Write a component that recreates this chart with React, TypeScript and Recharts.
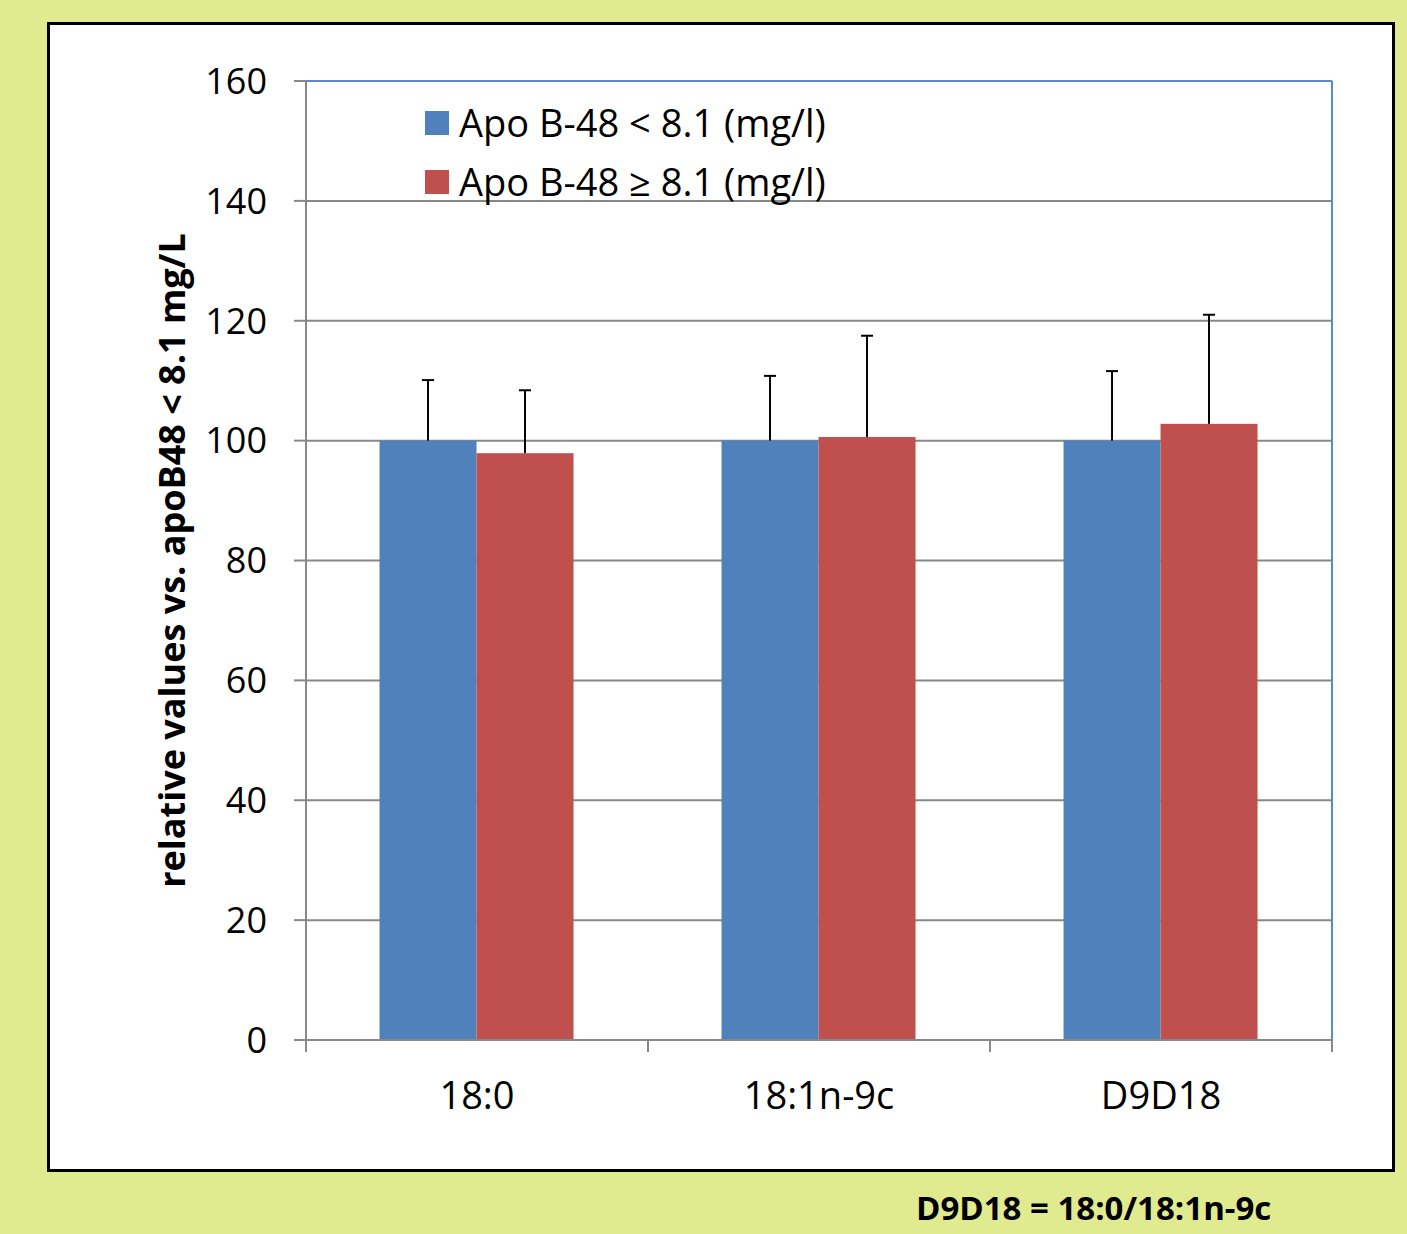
import React from 'react';
import { BarChart, Bar, XAxis, YAxis, CartesianGrid, Legend, ReferenceLine, ReferenceArea } from 'recharts';

const categories = ['18:0', '18:1n-9c', 'D9D18'];
const lowValues = [100, 100, 100];
const highValues = [97.9, 100.6, 102.8];
const lowErrors = [10.1, 10.8, 11.6];
const highErrors = [10.5, 16.9, 18.2];
const yTicks = [0, 20, 40, 60, 80, 100, 120, 140, 160];
const seriesNames = ['Apo B-48 < 8.1 (mg/l)', 'Apo B-48 \u2265 8.1 (mg/l)'];
const yLabel = 'relative values vs. apoB48 < 8.1 mg/L';
const footnote = 'D9D18 = 18:0/18:1n-9c';

const data = categories.map((c, i) => ({
  cat: c,
  low: lowValues[i],
  high: highValues[i],
  lowErr: lowErrors[i],
  highErr: highErrors[i],
}));

const FONT = "'Open Sans', sans-serif";
const BORDER_BLUE = '#5B8AC6';

const makeShape = (valKey: string, errKey: string) => (props: any) => {
  const { x, y, width, height, fill, payload } = props;
  const v = payload[valKey];
  const e = payload[errKey];
  const ppu = v ? height / v : 0;
  const cx = x + width / 2;
  const top = y - e * ppu;
  return (
    <g>
      <rect x={x} y={y} width={width} height={height} fill={fill} />
      <line x1={cx} x2={cx} y1={y} y2={top} stroke="#000" strokeWidth={2} />
      <line x1={cx - 6} x2={cx + 6} y1={top} y2={top} stroke="#000" strokeWidth={2} />
    </g>
  );
};

const RightBorder = (props: any) => {
  const { x, y, width, height } = props;
  const rx = x + width;
  return <line x1={rx} x2={rx} y1={y} y2={y + height} stroke={BORDER_BLUE} strokeWidth={2} />;
};

const XTick = (props: any) => {
  const { x, y, payload, index, visibleTicksCount } = props;
  const half = payload && payload.offset ? payload.offset : 0;
  const isLast = index === (visibleTicksCount || categories.length) - 1;
  return (
    <g>
      <line x1={x - half} x2={x - half} y1={y} y2={y + 12} stroke="#888" strokeWidth={2} />
      {isLast ? <line x1={x + half} x2={x + half} y1={y} y2={y + 12} stroke="#888" strokeWidth={2} /> : null}
      <text x={x} y={y + 56} dy="0.355em" textAnchor="middle" fontSize={38} fill="#000" fontFamily={FONT}>
        {payload.value}
      </text>
    </g>
  );
};

const LegendContent = (props: any) => {
  const { payload } = props;
  return (
    <div style={{ fontFamily: FONT, fontSize: 38, lineHeight: '59px', color: '#000' }}>
      {(payload || []).map((p: any, i: number) => (
        <div key={i} style={{ display: 'flex', alignItems: 'center', whiteSpace: 'nowrap' }}>
          <span style={{ display: 'inline-block', width: 24, height: 24, background: p.color, marginRight: 10 }} />
          <span>{p.value}</span>
        </div>
      ))}
    </div>
  );
};

export default function App() {
  return (
    <div style={{ position: 'absolute', left: 0, top: 0, width: 1407, height: 1234, background: '#E0EB8F', fontFamily: FONT }}>
      <div
        style={{
          position: 'absolute',
          left: 47,
          top: 22,
          width: 1348,
          height: 1150,
          background: '#fff',
          border: '3px solid #000',
          boxSizing: 'border-box',
        }}
      />
      <div style={{ position: 'absolute', left: 0, top: 0 }}>
        <BarChart
          width={1407}
          height={1234}
          data={data}
          margin={{ top: 81, right: 75, bottom: 134, left: 166 }}
          barCategoryGap="21.5%"
          barGap={0}
        >
          <CartesianGrid vertical={false} stroke="#888" strokeWidth={2} />
          <XAxis
            dataKey="cat"
            interval={0}
            height={60}
            tickSize={0}
            tickMargin={0}
            tickLine={false}
            axisLine={{ stroke: '#888', strokeWidth: 2 }}
            tick={<XTick />}
          />
          <YAxis
            domain={[0, 160]}
            ticks={yTicks}
            interval={0}
            width={140}
            tickSize={12}
            tickMargin={27}
            axisLine={{ stroke: '#888', strokeWidth: 2 }}
            tickLine={{ stroke: '#888', strokeWidth: 2 }}
            tick={{ fill: '#000', fontSize: 36, fontFamily: FONT }}
            label={{
              value: yLabel,
              angle: -90,
              position: 'insideLeft',
              offset: 6,
              style: { textAnchor: 'middle', fontWeight: 700, fontSize: 36, fill: '#000', fontFamily: FONT },
            }}
          />
          <ReferenceLine y={160} stroke={BORDER_BLUE} strokeWidth={2} />
          <ReferenceArea
            x1={categories[categories.length - 1]}
            x2={categories[categories.length - 1]}
            y1={0}
            y2={160}
            shape={<RightBorder />}
          />
          <Legend
            layout="vertical"
            align="center"
            verticalAlign="middle"
            content={<LegendContent />}
            wrapperStyle={{ position: 'absolute', left: 425, top: 93, width: 'auto' }}
          />
          <Bar dataKey="low" name={seriesNames[0]} fill="#4F81BD" isAnimationActive={false} shape={makeShape('low', 'lowErr')} />
          <Bar dataKey="high" name={seriesNames[1]} fill="#C0504D" isAnimationActive={false} shape={makeShape('high', 'highErr')} />
        </BarChart>
      </div>
      <div
        style={{
          position: 'absolute',
          left: 916,
          top: 1188,
          fontSize: 33,
          lineHeight: '40px',
          fontWeight: 700,
          color: '#000',
          whiteSpace: 'nowrap',
          fontFamily: FONT,
        }}
      >
        {footnote}
      </div>
    </div>
  );
}
